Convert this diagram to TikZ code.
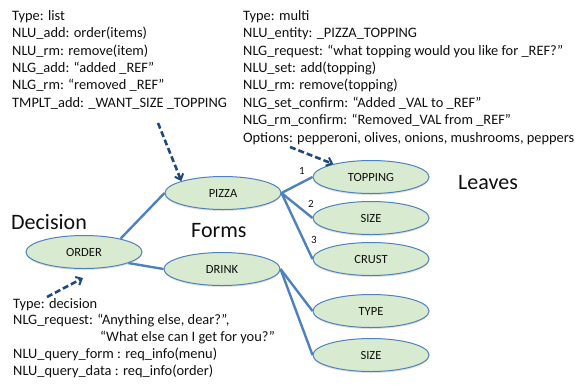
\documentclass[tikz,border=0pt]{standalone}
\usepackage{fontspec}
\setmainfont{Carlito}
\usetikzlibrary{shapes.geometric,arrows.meta,shadows}
\definecolor{leaf}{RGB}{216,234,208}
\definecolor{rim}{RGB}{79,129,189}
\definecolor{navy}{RGB}{31,73,125}
\definecolor{ink}{RGB}{15,15,15}
\tikzset{
  oval/.style={ellipse, draw=rim, line width=1pt, fill=leaf, minimum width=116pt, minimum height=33pt, inner sep=0pt,
    font=\fontsize{12.5}{14}\selectfont, text=ink,
    drop shadow={opacity=0.25, shadow xshift=0pt, shadow yshift=-1.5pt}},
  link/.style={draw=rim, line width=2.4pt},
  hint/.style={draw=navy, line width=2.6pt, dash pattern=on 6pt off 3pt, -{Straight Barb[length=5pt,width=9pt,line width=2pt]}},
  info/.style={anchor=north west, inner sep=0pt, align=left, text=ink, font=\fontsize{14.4}{17.4}\selectfont},
  head/.style={anchor=base west, inner sep=0pt, text=ink, font=\fontsize{22}{26}\selectfont},
  num/.style={inner sep=0pt, text=ink, font=\fontsize{11}{13}\selectfont}
}
\begin{document}
\begin{tikzpicture}[x=1pt,y=-1pt]
\useasboundingbox (0,0) rectangle (576,384);
% nodes
\node[oval] (ORDER) at (84,252) {ORDER};
\node[oval] (PIZZA) at (223,193) {PIZZA};
\node[oval] (DRINK) at (222,269) {DRINK};
\node[oval] (TOPPING) at (371,177) {TOPPING};
\node[oval] (SIZEA) at (371,218) {SIZE};
\node[oval] (CRUST) at (371,259) {CRUST};
\node[oval] (TYPE) at (371,311) {TYPE};
\node[oval] (SIZEB) at (371,355) {SIZE};
% links
\draw[link] (ORDER.20) -- (PIZZA.west);
\draw[link] (ORDER.-14) -- (DRINK.west);
\draw[link] (PIZZA.east) -- (TOPPING.west);
\draw[link] (PIZZA.east) -- (SIZEA.west);
\draw[link] (PIZZA.east) -- (CRUST.west);
\draw[link] (DRINK.east) -- (TYPE.west);
\draw[link] (DRINK.east) -- (SIZEB.west);
% numbers
\node[num] (n1) at (302,171) {1};
\node[num] (n2) at (311,204) {2};
\node[num] (n3) at (314,240) {3};
% headings
\node[head] (hdec) at (11,229) {Decision};
\node[head] (hform) at (191,237) {Forms};
\node[head] (hleaf) at (458,189) {Leaves};
% info blocks
\node[info] (tl) at (12,10) {Type: list\\
NLU\_add: order(items)\\
NLU\_rm: remove(item)\\
NLG\_add: “added \_REF”\\
NLG\_rm: “removed \_REF”\\
TMPLT\_add: \_WANT\_SIZE \_TOPPING};
\node[info] (tr) at (243,10) {Type: multi\\
NLU\_entity: \_PIZZA\_TOPPING\\
NLG\_request: “what topping would you like for \_REF?”\\
NLU\_set: add(topping)\\
NLU\_rm: remove(topping)\\
NLG\_set\_confirm: “Added \_VAL to \_REF”\\
NLG\_rm\_confirm: “Removed\_VAL from \_REF”\\
Options: pepperoni, olives, onions, mushrooms, peppers};
\node[info, font=\fontsize{14.4}{16.75}\selectfont] (bl) at (13,298) {Type: decision\\
NLG\_request: “Anything else, dear?”,\\
\hphantom{NLG\_request:}\ \hspace{4pt}“What else can I get for you?”\\
NLU\_query\_form : req\_info(menu)\\
NLU\_query\_data : req\_info(order)};
% dashed pointers
\coordinate (a1) at (158,123);
\coordinate (a2) at (290,147);
\coordinate (a3) at (47,297);
\coordinate (a3e) at (83,278);
\draw[hint] (a1) -- (PIZZA.164);
\draw[hint] (a2) -- (TOPPING.161);
\draw[hint] (a3) -- (a3e);
\end{tikzpicture}
\end{document}
